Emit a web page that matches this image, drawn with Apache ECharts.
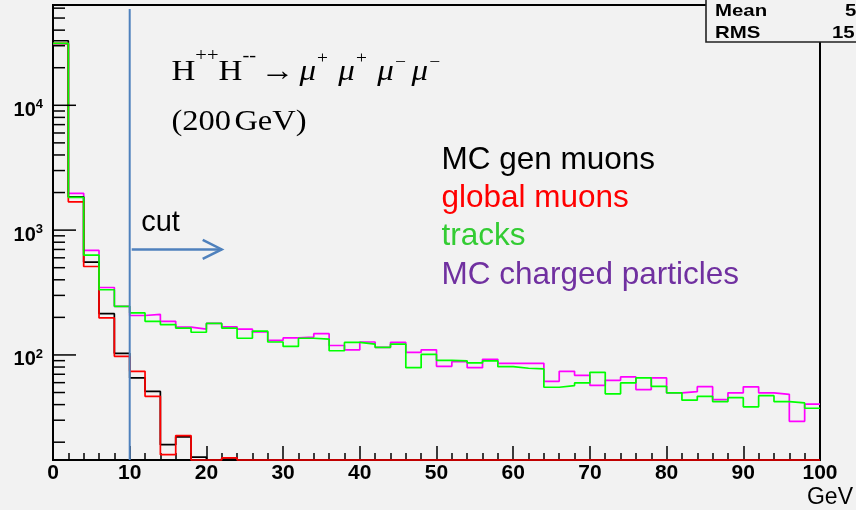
<!DOCTYPE html>
<html>
<head>
<meta charset="utf-8">
<script src="https://cdn.jsdelivr.net/npm/echarts@6/dist/echarts.min.js"></script>
<style>
  html, body { margin: 0; padding: 0; background: #f2f2f2; }
  #main { width: 856px; height: 510px; }
</style>
</head>
<body>
<div id="main"></div>
<script>
// Transverse-momentum spectra of H++H-- -> 4 muon events, 2 GeV bins from 0 to 100 GeV
const binEdges = [0, 2, 4, 6, 8, 10, 12, 14, 16, 18, 20, 22, 24, 26, 28, 30, 32, 34, 36, 38, 40,
  42, 44, 46, 48, 50, 52, 54, 56, 58, 60, 62, 64, 66, 68, 70, 72, 74, 76, 78, 80,
  82, 84, 86, 88, 90, 92, 94, 96, 98, 100];

const seriesNames = ['MC gen muons', 'global muons', 'tracks', 'MC charged particles'];

const genMuons = [32900, 1850, 555, 214, 103, 65.5, 51, 19.1, 22.1, 15.2,
  0, 15, 0, 0, 0, 0, 0, 0, 0, 0,
  0, 0, 0, 0, 0, 0, 0, 0, 0, 0,
  0, 0, 0, 0, 0, 0, 0, 0, 0, 0,
  0, 0, 0, 0, 0, 0, 0, 0, 0, 0];

const globalMuons = [31300, 1684, 511, 198, 97.5, 73.9, 46.6, 15.9, 22.6, 0,
  0, 15, 0, 0, 0, 0, 0, 0, 0, 0,
  0, 0, 0, 0, 0, 0, 0, 0, 0, 0,
  0, 0, 0, 0, 0, 0, 0, 0, 0, 0,
  0, 0, 0, 0, 0, 0, 0, 0, 0, 0];

const tracks = [31300, 1830, 631, 333, 245, 217, 186, 175, 164, 152,
  179, 164, 136, 155, 127, 117, 136, 134, 108, 126,
  122, 115, 122, 79, 101, 90.6, 89.6, 86.3, 89.6, 80.6,
  78.2, 77.3, 55.1, 56.8, 59.7, 72.6, 48.8, 59.7, 65.5, 56.1,
  49.7, 43.4, 46.6, 42.3, 45.5, 38.4, 47.2, 42.3, 41.3, 37.4];

const chargedParticles = [31000, 1970, 687, 347, 245, 207, 211, 186, 167, 161,
  179, 168, 161, 153, 131, 137, 139, 148, 119, 110,
  127, 115, 126, 105, 110, 81.1, 88.4, 79, 92.2, 85.7,
  85.7, 85.7, 61.5, 73.9, 68.7, 57.1, 62.6, 66.7, 52.8, 65.5,
  49.7, 50.8, 55.7, 43.9, 49.7, 55.5, 49.7, 48.4, 29.4, 40.3];

// axis ranges
const xRange = [0, 100];
const yRange = [14.4, 63600];

// log-axis tick marks
const yMajorTicks = [100, 1000, 10000];
const yMinorTicks = [20, 30, 40, 50, 60, 70, 80, 90,
  200, 300, 400, 500, 600, 700, 800, 900,
  2000, 3000, 4000, 5000, 6000, 7000, 8000, 9000,
  20000, 30000, 40000, 50000, 60000];

// selection cut
const cutValue = 10;
const cutTop = 59000;
const cutArrowLevel = 700;

const sansFont = '"Liberation Sans", Arial, sans-serif';
const serifFont = '"Liberation Serif", "Times New Roman", serif';
const cutColor = '#4f81bd';

// histogram outline: one point per lower bin edge plus the closing edge
function stepData(values) {
  const pts = values.map((v, i) => [binEdges[i], Math.max(v, yRange[0])]);
  pts.push([binEdges[values.length], Math.max(values[values.length - 1], yRange[0])]);
  return pts;
}

function histSeries(name, values, color, z) {
  return {
    type: 'line',
    name: name,
    data: stepData(values),
    step: 'end',
    symbol: 'none',
    clip: false,
    z: z,
    silent: true,
    emphasis: { disabled: true },
    lineStyle: { color: color, width: 1.7 },
    itemStyle: { color: color }
  };
}

const chart = echarts.init(document.getElementById('main'), null, { renderer: 'canvas' });

const option = {
  backgroundColor: '#f2f2f2',
  animation: false,
  grid: {
    left: 53, right: 36, top: 5, bottom: 50,
    show: true, borderColor: '#000', borderWidth: 2,
    backgroundColor: 'transparent',
    containLabel: false,
    outerBoundsMode: 'none'
  },
  legend: {
    orient: 'vertical',
    left: 431.5,
    top: 139,
    itemGap: 6.3,
    itemWidth: 0,
    itemHeight: 32,
    icon: 'none',
    selectedMode: false,
    textStyle: { fontSize: 31.5, fontFamily: sansFont, lineHeight: 32 },
    data: [
      { name: seriesNames[0], textStyle: { color: '#000000' } },
      { name: seriesNames[1], textStyle: { color: '#ff0000' } },
      { name: seriesNames[2], textStyle: { color: '#33cc33' } },
      { name: seriesNames[3], textStyle: { color: '#7030a0' } }
    ]
  },
  xAxis: {
    type: 'value',
    min: xRange[0],
    max: xRange[1],
    interval: 10,
    name: 'GeV',
    nameLocation: 'end',
    nameGap: 33,
    nameTextStyle: {
      fontSize: 23, fontFamily: sansFont, color: '#000',
      align: 'right', verticalAlign: 'top', padding: [26, 0, 0, 0]
    },
    axisLine: { lineStyle: { color: '#000', width: 2 } },
    axisTick: { inside: true, length: 14, lineStyle: { color: '#000', width: 1.5 } },
    minorTick: { show: true, splitNumber: 5, length: 7, lineStyle: { color: '#000', width: 1.5 } },
    splitLine: { show: false },
    axisLabel: { fontSize: 21, fontWeight: 'bold', fontFamily: sansFont, color: '#000', margin: 3 }
  },
  yAxis: {
    type: 'log',
    logBase: 10,
    min: yRange[0],
    max: yRange[1],
    axisLine: { lineStyle: { color: '#000', width: 2 } },
    axisTick: { show: false },
    minorTick: { show: false },
    splitLine: { show: false },
    axisLabel: {
      margin: 10,
      padding: [10, 0, 0, 0],
      formatter: function (v) {
        const e = Math.log10(v);
        const r = Math.round(e);
        if (Math.abs(e - r) > 1e-6) return '';
        return '{b|10}{s|' + r + '}';
      },
      rich: {
        b: { fontSize: 20, fontWeight: 'bold', fontFamily: sansFont, color: '#000', lineHeight: 24 },
        s: { fontSize: 13, fontWeight: 'bold', fontFamily: sansFont, color: '#000', lineHeight: 13, verticalAlign: 'top' }
      }
    }
  },
  series: [
    histSeries(seriesNames[3], chargedParticles, '#ff00ff', 3),
    histSeries(seriesNames[0], genMuons, '#000000', 4),
    histSeries(seriesNames[1], globalMuons, '#ff0000', 5),
    histSeries(seriesNames[2], tracks, '#00ff00', 6),
    {
      // tick marks of the logarithmic axis, drawn inside the frame
      type: 'custom',
      silent: true,
      z: 7,
      data: yMajorTicks.map(v => [xRange[0], v, 23]).concat(yMinorTicks.map(v => [xRange[0], v, 12])),
      renderItem: function (params, api) {
        const p = api.coord([api.value(0), api.value(1)]);
        return {
          type: 'line',
          shape: { x1: p[0], y1: p[1], x2: p[0] + api.value(2), y2: p[1] },
          style: { stroke: '#000', lineWidth: 1.5 }
        };
      }
    },
    {
      // cut position with its arrow and label
      type: 'custom',
      silent: true,
      z: 8,
      data: [[cutValue, cutArrowLevel]],
      renderItem: function (params, api) {
        const base = api.coord([api.value(0), yRange[0]]);
        const top = api.coord([api.value(0), cutTop]);
        const a = api.coord([api.value(0), api.value(1)]);
        return {
          type: 'group',
          children: [
            { type: 'line', shape: { x1: top[0], y1: top[1], x2: base[0], y2: base[1] },
              style: { stroke: cutColor, lineWidth: 2 } },
            { type: 'line', shape: { x1: a[0] + 2, y1: a[1], x2: a[0] + 92, y2: a[1] },
              style: { stroke: cutColor, lineWidth: 2.5 } },
            { type: 'polyline', shape: { points: [[a[0] + 73, a[1] - 9.5], [a[0] + 92, a[1]], [a[0] + 73, a[1] + 9.5]] },
              style: { stroke: cutColor, lineWidth: 2.5, fill: null } },
            { type: 'text', x: a[0] + 11.5, y: a[1] - 26.5,
              style: { text: 'cut', fontSize: 29, fontFamily: sansFont, fill: '#000', verticalAlign: 'middle', align: 'left' } }
          ]
        };
      }
    }
  ],
  graphic: [
    {
      // process label
      type: 'text',
      x: 171.5, y: 72, scaleX: 1.14, z: 10,
      style: {
        text: '{n|H}{s|++}{n|H}{s|--}{a|→}{m|μ}{p|+}{m|μ}{p|+}{m|μ}{q|−}{m|μ}{r|−}',
        align: 'left', verticalAlign: 'middle',
        rich: {
          n: { fontSize: 29, fontFamily: serifFont, fill: '#000', lineHeight: 54 },
          s: { fontSize: 18, fontFamily: serifFont, fill: '#000', lineHeight: 18, verticalAlign: 'top', padding: [2, 0, 0, 0] },
          a: { fontSize: 30, fontFamily: serifFont, fill: '#000', lineHeight: 54, padding: [0, 4, 0, 4] },
          m: { fontSize: 29, fontFamily: serifFont, fontStyle: 'italic', fill: '#000', lineHeight: 54 },
          p: { fontSize: 17, fontFamily: serifFont, fill: '#000', lineHeight: 18, verticalAlign: 'top', padding: [5, 9, 0, 1] },
          q: { fontSize: 17, fontFamily: serifFont, fill: '#000', lineHeight: 18, verticalAlign: 'top', padding: [9, 5, 0, 1] },
          r: { fontSize: 17, fontFamily: serifFont, fill: '#000', lineHeight: 18, verticalAlign: 'top', padding: [9, 0, 0, 1] }
        }
      }
    },
    {
      type: 'text',
      x: 171.5, y: 122, scaleX: 1.12, z: 10,
      style: {
        text: '{n|(200}{g|GeV)}',
        align: 'left', verticalAlign: 'middle',
        rich: {
          n: { fontSize: 29, fontFamily: serifFont, fill: '#000', padding: [0, 3, 0, 0] },
          g: { fontSize: 29, fontFamily: serifFont, fill: '#000' }
        }
      }
    },
    {
      // statistics box in the upper right corner
      type: 'group',
      z: 20,
      children: [
        { type: 'rect', shape: { x: 706, y: -4, width: 160, height: 46 },
          style: { fill: '#f2f2f2', stroke: '#222', lineWidth: 1.6 } },
        { type: 'text', x: 715, y: 11, scaleX: 1.2,
          style: { text: 'Mean', fontSize: 17, fontWeight: 'bold', fontFamily: sansFont, fill: '#000', verticalAlign: 'middle' } },
        { type: 'text', x: 715, y: 33, scaleX: 1.2,
          style: { text: 'RMS', fontSize: 17, fontWeight: 'bold', fontFamily: sansFont, fill: '#000', verticalAlign: 'middle' } },
        { type: 'text', x: 845, y: 11, scaleX: 1.2,
          style: { text: '5', fontSize: 17, fontWeight: 'bold', fontFamily: sansFont, fill: '#000', verticalAlign: 'middle' } },
        { type: 'text', x: 832, y: 33, scaleX: 1.2,
          style: { text: '15', fontSize: 17, fontWeight: 'bold', fontFamily: sansFont, fill: '#000', verticalAlign: 'middle' } }
      ]
    }
  ]
};

chart.setOption(option);
</script>
</body>
</html>
